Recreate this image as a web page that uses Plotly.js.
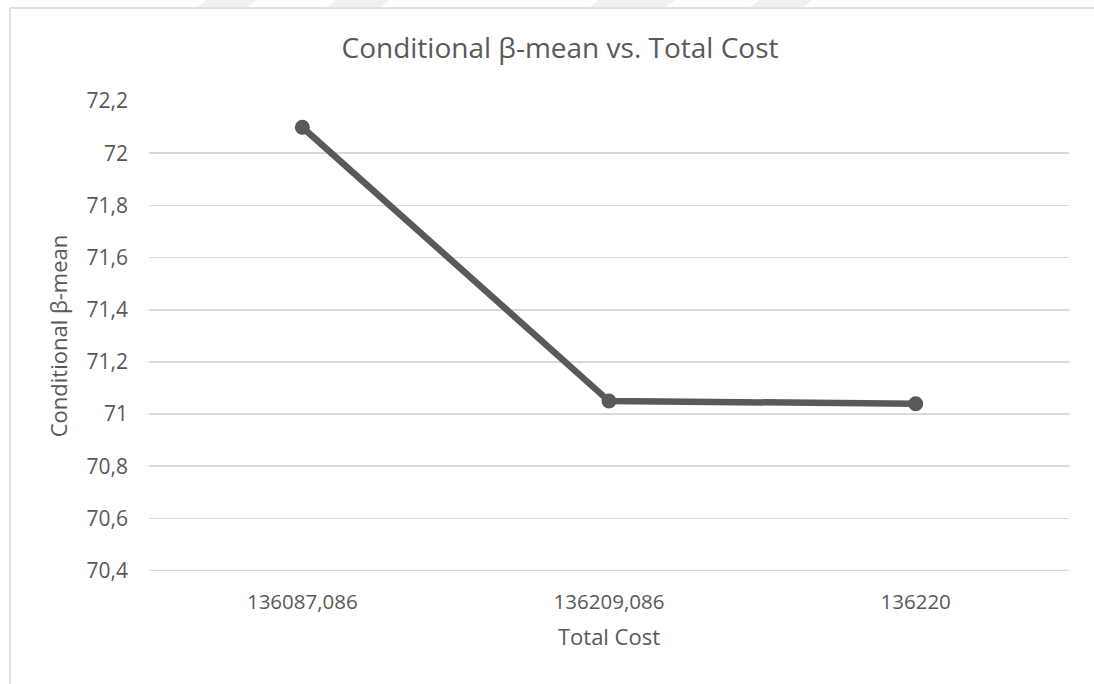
<!DOCTYPE html>
<html>
<head>
<meta charset="utf-8">
<script src="https://cdn.plot.ly/plotly-3.0.1.min.js"></script>
<style>
  html, body { margin: 0; padding: 0; background: #ffffff; }
  #chart { width: 1094px; height: 684px; }
</style>
</head>
<body>
<div id="chart"></div>
<script>
// Total cost scenarios (category labels) and the conditional β-mean for each
const totalCost = ['136087,086', '136209,086', '136220'];
const betaMean = [72.1, 71.05, 71.04];

// Value axis ticks
const yTicks = [70.4, 70.6, 70.8, 71, 71.2, 71.4, 71.6, 71.8, 72, 72.2];

const textGray = '#595959';
const gridGray = '#d9d9d9';
const font = '"Open Sans", "Noto Sans", sans-serif';

// plot-area geometry in pixels, used to place the frame in paper units
const W = 1094, H = 684;
const M = { l: 149, r: 25, t: 101, b: 113 };
const pw = W - M.l - M.r, ph = H - M.t - M.b;
const px = x => (x - M.l) / pw;
const py = y => (H - M.b - y) / ph;

// chart frame (left and top edges) plus faint banding along the very top
const shapes = [
  { type: 'line', xref: 'paper', yref: 'paper', x0: px(10), x1: px(10), y0: py(8), y1: py(H + 5),
    line: { color: gridGray, width: 1.6 } },
  { type: 'line', xref: 'paper', yref: 'paper', x0: px(10), x1: px(W + 5), y0: py(8), y1: py(8),
    line: { color: gridGray, width: 1.6 } },
  // gridline on the lowest tick, which sits on the edge of the plot area
  { type: 'line', xref: 'paper', yref: 'y', x0: 0, x1: 1, y0: yTicks[0], y1: yTicks[0],
    layer: 'below', line: { color: gridGray, width: 1.7 } }
];
const bands = [[207, 257, 197, 247], [337, 390, 327, 380], [598, 675, 590, 665], [760, 813, 750, 803]];
bands.forEach(b => {
  shapes.push({
    type: 'path', xref: 'paper', yref: 'paper', layer: 'below',
    path: `M ${px(b[0])} ${py(0)} L ${px(b[1])} ${py(0)} L ${px(b[3])} ${py(7)} L ${px(b[2])} ${py(7)} Z`,
    fillcolor: '#f0f0f0', line: { width: 0 }
  });
});

const trace = {
  type: 'scatter',
  mode: 'lines+markers',
  x: totalCost,
  y: betaMean,
  line: { color: textGray, width: 6.5 },
  marker: { color: textGray, size: 15 },
  hoverinfo: 'x+y'
};

const layout = {
  width: W,
  height: H,
  margin: M,
  paper_bgcolor: '#ffffff',
  plot_bgcolor: '#ffffff',
  separators: ', ',
  showlegend: false,
  font: { family: font, color: textGray, size: 20.5 },
  title: {
    text: 'Conditional β-mean vs. Total Cost',
    font: { family: font, size: 28, color: textGray },
    xref: 'container', yref: 'container',
    x: 560 / W, xanchor: 'center',
    y: 1 - 48 / H, yanchor: 'middle'
  },
  xaxis: {
    type: 'category',
    range: [-0.5, 2.5],
    showgrid: false,
    zeroline: false,
    showline: false,
    ticks: '',
    ticklabelstandoff: 16,
    tickfont: { family: font, size: 20.5, color: textGray },
    title: {
      text: 'Total Cost',
      font: { family: font, size: 22, color: textGray },
      standoff: 16
    }
  },
  yaxis: {
    range: [70.3985, 72.2005],
    tickmode: 'array',
    tickvals: yTicks,
    showgrid: true,
    gridcolor: gridGray,
    gridwidth: 1.7,
    zeroline: false,
    showline: false,
    ticks: '',
    ticklabelstandoff: 20,
    tickfont: { family: font, size: 21, color: textGray },
    title: {
      text: 'Conditional β-mean',
      font: { family: font, size: 22, color: textGray },
      standoff: 12
    }
  },
  shapes: shapes
};

Plotly.newPlot('chart', [trace], layout, { displayModeBar: false, staticPlot: true });
</script>
</body>
</html>
